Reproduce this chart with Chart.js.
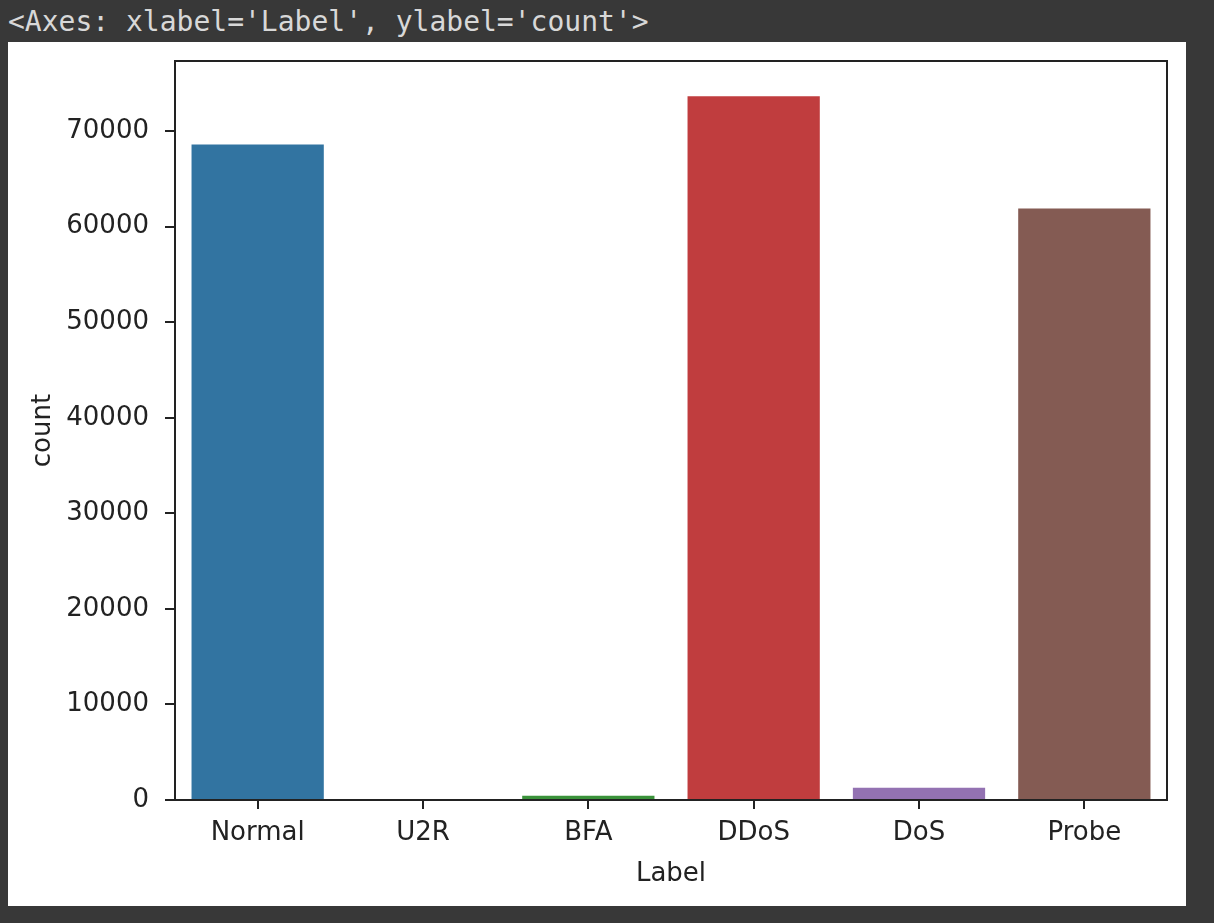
<!DOCTYPE html>
<html>
<head>
<meta charset="utf-8">
<script src="https://cdn.jsdelivr.net/npm/chart.js@4.4.0/dist/chart.umd.min.js"></script>
<style>
  html, body { margin:0; padding:0; background:#383838; width:1214px; height:923px; overflow:hidden; }
  #hdr { position:absolute; left:8px; top:8px; font-family:"DejaVu Sans Mono", monospace; font-size:28px; line-height:28px; color:#d8d8d8; white-space:pre; }
  #fig { position:absolute; left:8px; top:42px; width:1178px; height:864px; background:#fff; }
</style>
</head>
<body>
<div id="hdr">&lt;Axes: xlabel='Label', ylabel='count'&gt;</div>
<div id="fig"><canvas id="c" width="1178" height="864"></canvas></div>
<script>
const categories = ['Normal', 'U2R', 'BFA', 'DDoS', 'DoS', 'Probe'];
const counts = [68600, 17, 450, 73650, 1280, 61900];
const barColors = ['#3274a1', '#e1812c', '#3a923a', '#c03d3e', '#9372b2', '#845b53'];
const yTicks = [0, 10000, 20000, 30000, 40000, 50000, 60000, 70000];
const xTitle = 'Label';
const yTitle = 'count';

const INK = '#222222';
const FONT = { family: 'DejaVu Sans', size: 26 };

const framePlugin = {
  id: 'frame',
  afterDraw(chart) {
    const a = chart.chartArea, ctx = chart.ctx;
    ctx.save();
    ctx.strokeStyle = INK;
    ctx.lineWidth = 2;
    ctx.strokeRect(a.left, a.top, a.right - a.left, a.bottom - a.top);
    ctx.restore();
  }
};

new Chart(document.getElementById('c'), {
  type: 'bar',
  data: {
    labels: categories,
    datasets: [{
      data: counts,
      backgroundColor: barColors,
      borderWidth: 0,
      barPercentage: 0.8,
      categoryPercentage: 1.0
    }]
  },
  options: {
    responsive: false,
    devicePixelRatio: 1,
    animation: false,
    events: [],
    layout: { padding: { top: 19, right: 19, left: 0, bottom: 0 } },
    plugins: { legend: { display: false }, tooltip: { enabled: false } },
    scales: {
      x: {
        offset: true,
        grid: { display: true, offset: false, drawOnChartArea: false, drawTicks: true, tickLength: 9, color: INK, lineWidth: 2 },
        border: { display: false },
        ticks: { color: INK, font: FONT, padding: 9, maxRotation: 0 },
        title: { display: true, text: xTitle, color: INK, font: FONT, padding: { top: 0, bottom: 16 } },
        afterFit(s) { s.height = 106; s.paddingLeft = 0; s.paddingRight = 0; }
      },
      y: {
        min: 0,
        max: Math.max(...counts) * 1.05,
        grid: { display: true, drawOnChartArea: false, drawTicks: true, tickLength: 10, color: INK, lineWidth: 2 },
        border: { display: false },
        ticks: { color: INK, font: FONT, padding: 16, callback: v => String(v) },
        afterBuildTicks(s) { s.ticks = yTicks.map(v => ({ value: v })); },
        title: { display: true, text: yTitle, color: INK, font: FONT, padding: { top: 20, bottom: 0 } },
        afterFit(s) { s.width = 167; s.paddingTop = 0; s.paddingBottom = 0; }
      }
    }
  },
  plugins: [framePlugin]
});
</script>
</body>
</html>
